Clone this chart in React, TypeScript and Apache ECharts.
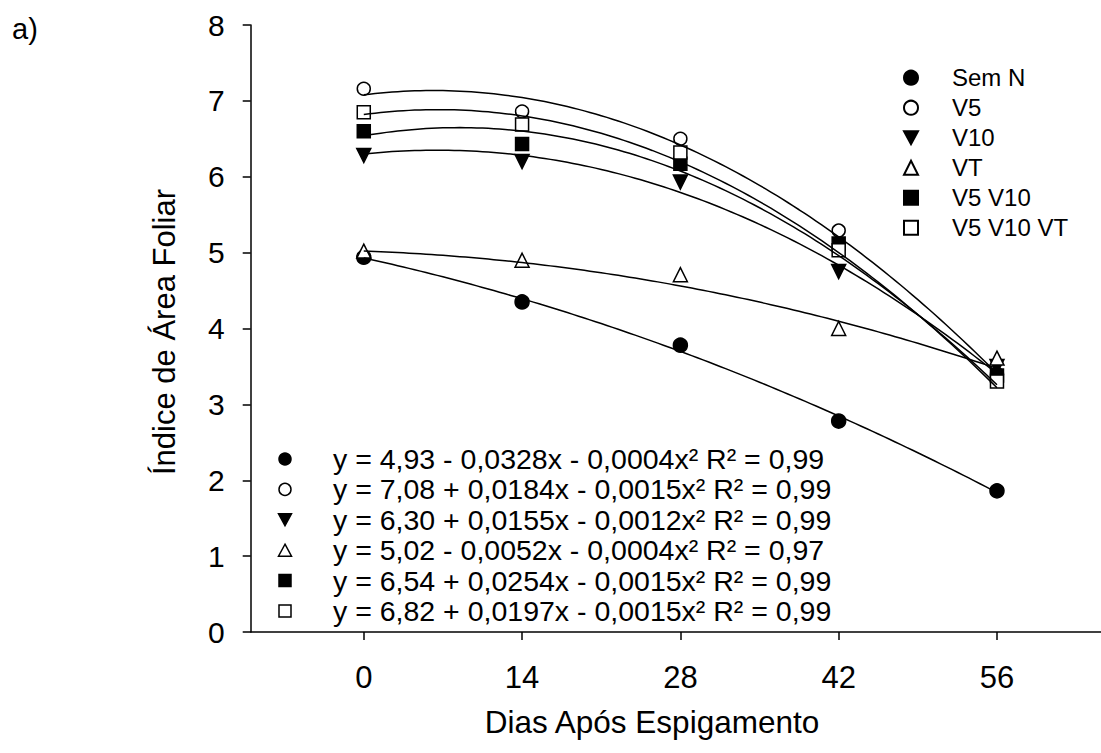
import React, { useEffect, useRef } from 'react';
import * as echarts from 'echarts';

// Days after heading (x) and leaf area index readings per treatment
const days = [0, 14, 28, 42, 56];
const xTickLabels = ['0', '14', '28', '42', '56'];
const yTickValues = [0, 1, 2, 3, 4, 5, 6, 7, 8];

const treatments = ['Sem N', 'V5', 'V10', 'VT', 'V5 V10', 'V5 V10 VT'];

const semN = [4.94, 4.35, 3.78, 2.78, 1.86];
const v5 = [7.16, 6.86, 6.5, 5.29, 3.4];
const v10 = [6.28, 6.2, 5.93, 4.75, 3.5];
const vt = [5.02, 4.9, 4.71, 4.0, 3.61];
const v5v10 = [6.6, 6.43, 6.17, 5.12, 3.38];
const v5v10vt = [6.85, 6.69, 6.32, 5.03, 3.3];

// Quadratic fits y = a + b·x + c·x²
const intercepts = [4.93, 7.08, 6.3, 5.02, 6.54, 6.82];
const linearTerms = [-0.0328, 0.0184, 0.0155, -0.0052, 0.0254, 0.0197];
const quadraticTerms = [-0.0004, -0.0015, -0.0012, -0.0004, -0.0015, -0.0015];
const rSquared = [0.99, 0.99, 0.99, 0.97, 0.99, 0.99];

const observed = [semN, v5, v10, vt, v5v10, v5v10vt];

// Marker look per treatment
const symbols = ['circle', 'circle', 'triangle', 'triangle', 'rect', 'rect'];
const filled = [true, false, true, false, true, false];
const rotations = [0, 0, 180, 0, 0, 0];
const symbolSizes = [14, 13, 14, 14, 13, 13];

const FONT = '"Liberation Sans", Arial, Helvetica, sans-serif';
const DOWN_TRIANGLE = 'path://M0,0L14,0L7,13Z';

const comma = (v: number, d: number) => v.toFixed(d).replace('.', ',');
const signed = (v: number, d: number) => (v < 0 ? ' - ' : ' + ') + comma(Math.abs(v), d);

function equationText(i: number) {
  return (
    'y = ' +
    comma(intercepts[i], 2) +
    signed(linearTerms[i], 4) +
    'x' +
    signed(quadraticTerms[i], 4) +
    'x² R² = ' +
    comma(rSquared[i], 2)
  );
}

function fitCurve(i: number) {
  const pts: number[][] = [];
  for (let x = 0; x <= 56; x += 0.5) {
    pts.push([x, intercepts[i] + linearTerms[i] * x + quadraticTerms[i] * x * x]);
  }
  return pts;
}

// Small marker drawn next to each regression equation
function keyMarker(i: number, cx: number, cy: number) {
  const fill = filled[i] ? '#000' : '#fff';
  const style = { fill, stroke: '#000', lineWidth: 1.5 };
  if (symbols[i] === 'circle') {
    return { type: 'circle', shape: { cx, cy, r: 6 }, style };
  }
  if (symbols[i] === 'rect') {
    return { type: 'rect', shape: { x: cx - 6, y: cy - 6, width: 12, height: 12 }, style };
  }
  const down = rotations[i] === 180;
  const pts = down
    ? [[cx - 6.5, cy - 6], [cx + 6.5, cy - 6], [cx, cy + 6]]
    : [[cx, cy - 6], [cx + 6.5, cy + 6], [cx - 6.5, cy + 6]];
  return { type: 'polygon', shape: { points: pts }, style };
}

const equationRows = [459, 489.4, 519.8, 550.2, 580.6, 611];

export default function App() {
  const ref = useRef<HTMLDivElement>(null);

  useEffect(() => {
    if (!ref.current) return;
    const chart = echarts.init(ref.current, null, { renderer: 'svg' });

    const scatterSeries = treatments.map((name, i) => ({
      name,
      type: 'scatter',
      symbol: symbols[i],
      symbolRotate: rotations[i],
      symbolSize: symbolSizes[i],
      z: 2,
      itemStyle: {
        color: filled[i] ? '#000' : '#fff',
        borderColor: '#000',
        borderWidth: 1.5,
        opacity: 1,
      },
      data: days.map((d, k) => [d, observed[i][k]]),
    }));

    const curveSeries = treatments.map((name, i) => ({
      name: name + ' ajuste',
      type: 'line',
      showSymbol: false,
      smooth: false,
      z: 3,
      lineStyle: { color: '#000', width: 1.5 },
      data: fitCurve(i),
    }));

    const graphics: any[] = [
      {
        type: 'text',
        x: 12,
        y: 29,
        style: {
          text: 'a)',
          fontSize: 29,
          fontFamily: FONT,
          fill: '#000',
          align: 'left',
          verticalAlign: 'middle',
        },
      },
      {
        type: 'text',
        x: 652,
        y: 722,
        style: {
          text: 'Dias Após Espigamento',
          fontSize: 31.5,
          fontFamily: FONT,
          fill: '#000',
          align: 'center',
          verticalAlign: 'middle',
        },
      },
      {
        type: 'text',
        x: 164,
        y: 332,
        rotation: Math.PI / 2,
        style: {
          text: 'Índice de Área Foliar',
          fontSize: 31,
          fontFamily: FONT,
          fill: '#000',
          align: 'center',
          verticalAlign: 'middle',
        },
      },
    ];

    treatments.forEach((_, i) => {
      const cy = equationRows[i];
      graphics.push(keyMarker(i, 285, cy));
      graphics.push({
        type: 'text',
        x: 333,
        y: cy,
        style: {
          text: equationText(i),
          fontSize: 28.5,
          lineHeight: 26,
          fontFamily: FONT,
          fill: '#000',
          align: 'left',
          verticalAlign: 'middle',
        },
      });
    });

    const legendData = treatments.map((name, i) =>
      rotations[i] === 180 ? { name, icon: DOWN_TRIANGLE } : { name }
    );

    chart.setOption({
      animation: false,
      backgroundColor: '#fff',
      textStyle: { fontFamily: FONT, color: '#000' },
      grid: { left: 250.7, right: 0, top: 25, bottom: 121 },
      xAxis: {
        type: 'value',
        min: -10,
        max: 65.2,
        axisLine: { show: true, onZero: false, lineStyle: { color: '#000', width: 1.5 } },
        axisTick: {
          show: true,
          length: 8,
          inside: false,
          customValues: days,
          lineStyle: { color: '#000', width: 1.5 },
        },
        axisLabel: {
          customValues: days,
          formatter: (v: number) => xTickLabels[days.indexOf(v)] ?? String(v),
          fontSize: 31,
          fontFamily: FONT,
          color: '#000',
          margin: 30,
        },
        splitLine: { show: false },
      },
      yAxis: {
        type: 'value',
        min: 0,
        max: 8,
        interval: 1,
        axisLine: { show: true, onZero: false, lineStyle: { color: '#000', width: 1.5 } },
        axisTick: { show: true, length: 8, inside: false, lineStyle: { color: '#000', width: 1.5 } },
        axisLabel: {
          fontSize: 30,
          fontFamily: FONT,
          color: '#000',
          margin: 26,
          formatter: (v: number) => (yTickValues.includes(v) ? String(v) : ''),
        },
        splitLine: { show: false },
      },
      legend: {
        data: legendData,
        orient: 'vertical',
        left: 903,
        top: 65.7,
        padding: 0,
        itemWidth: 14,
        itemHeight: 14,
        itemGap: 6,
        selectedMode: false,
        textStyle: {
          fontSize: 24,
          lineHeight: 24,
          color: '#000',
          fontFamily: FONT,
          padding: [0, 0, 0, 29],
        },
      },
      graphic: graphics,
      series: [...scatterSeries, ...curveSeries],
    });

    return () => chart.dispose();
  }, []);

  return (
    <div
      ref={ref}
      style={{ position: 'absolute', left: 0, top: 0, width: 1101, height: 753, background: '#fff' }}
    />
  );
}
